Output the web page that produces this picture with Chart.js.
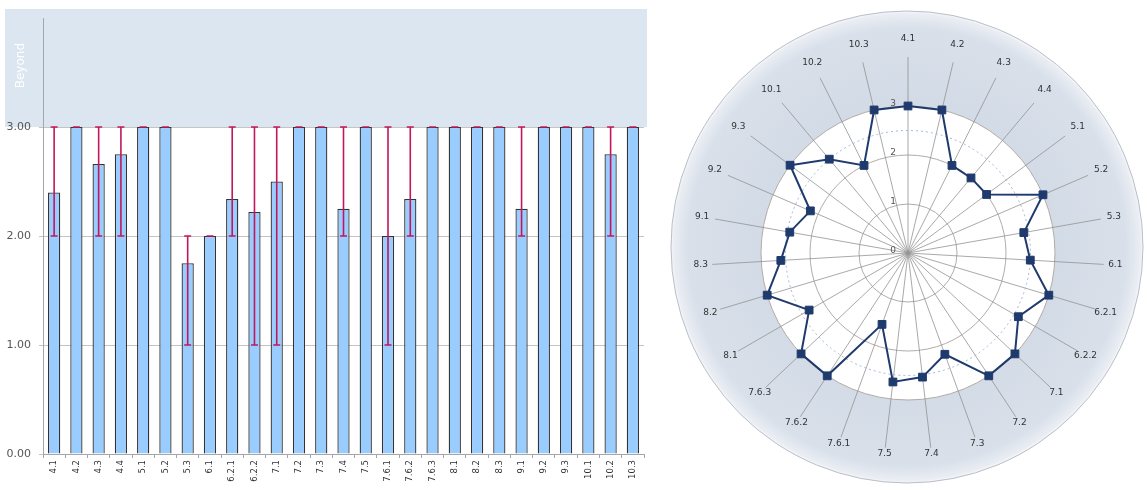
<!DOCTYPE html>
<html>
<head>
<meta charset="utf-8">
<script src="https://cdn.jsdelivr.net/npm/chart.js@4.4.1/dist/chart.umd.min.js"></script>
<style>
  html, body { margin: 0; padding: 0; background: #fff; width: 1147px; height: 491px; overflow: hidden; }
  #barWrap { position: absolute; left: 0; top: 0; width: 650px; height: 491px; }
  #radarWrap { position: absolute; left: 660px; top: 0; width: 487px; height: 491px; }
</style>
</head>
<body>
<div id="barWrap"><canvas id="bar" width="650" height="491" style="width:650px;height:491px"></canvas></div>
<div id="radarWrap"><canvas id="radar" width="487" height="491" style="width:487px;height:491px"></canvas></div>
<script>
// ---------- data ----------
const categories = ['4.1','4.2','4.3','4.4','5.1','5.2','5.3','6.1','6.2.1','6.2.2','7.1','7.2','7.3','7.4','7.5','7.6.1','7.6.2','7.6.3','8.1','8.2','8.3','9.1','9.2','9.3','10.1','10.2','10.3'];
const barValues = [2.4, 3, 2.66, 2.75, 3, 3, 1.75, 2, 2.34, 2.22, 2.5, 3, 3, 2.25, 3, 2, 2.34, 3, 3, 3, 3, 2.25, 3, 3, 3, 2.75, 3];
const errLow  = [2, 3, 2, 2, 3, 3, 1, 2, 2, 1, 1, 3, 3, 2, 3, 1, 2, 3, 3, 3, 3, 2, 3, 3, 3, 2, 3];
const errHigh = [3, 3, 3, 3, 3, 3, 2, 2, 3, 3, 3, 3, 3, 3, 3, 3, 3, 3, 3, 3, 3, 3, 3, 3, 3, 3, 3];
const yTicks = [0, 1, 2, 3];
const beyondFrom = 3;
const beyondLabel = 'Beyond';

const radarLabels = categories;
const radarValues = [3, 3, 2, 2, 2, 3, 2.4, 2.5, 3, 2.6, 3, 3, 2.2, 2.55, 2.65, 1.55, 3, 3, 2.33, 3, 2.6, 2.45, 2.17, 3, 2.5, 2, 3];
const radarTicks = [0, 1, 2, 3];
const radarTarget = 2.5;

// ---------- bar chart ----------
const beyondPlugin = {
  id: 'beyond',
  beforeDraw(chart) {
    const { ctx, chartArea, scales } = chart;
    const y3 = scales.y.getPixelForValue(beyondFrom);
    const top = chartArea.top - 9;
    ctx.save();
    ctx.fillStyle = '#dce6f1';
    ctx.fillRect(5, top, chartArea.right + 3 - 5, y3 - top);
    ctx.translate(21, top + (y3 - top) * 0.48);
    ctx.rotate(-Math.PI / 2);
    ctx.fillStyle = '#ffffff';
    ctx.font = '12px "DejaVu Sans", sans-serif';
    ctx.textAlign = 'center';
    ctx.textBaseline = 'middle';
    ctx.fillText(beyondLabel, 0, 0);
    ctx.restore();
  }
};

const errorBarPlugin = {
  id: 'errorBars',
  afterDatasetsDraw(chart) {
    const { ctx, scales } = chart;
    ctx.save();
    ctx.strokeStyle = '#c2185b';
    ctx.lineWidth = 1.6;
    for (let i = 0; i < categories.length; i++) {
      const x = scales.x.getPixelForValue(i);
      const yl = scales.y.getPixelForValue(errLow[i]);
      const yh = scales.y.getPixelForValue(errHigh[i]);
      ctx.beginPath();
      ctx.moveTo(x, yl); ctx.lineTo(x, yh);
      ctx.moveTo(x - 3.5, yl); ctx.lineTo(x + 3.5, yl);
      ctx.moveTo(x - 3.5, yh); ctx.lineTo(x + 3.5, yh);
      ctx.stroke();
    }
    ctx.restore();
  }
};

new Chart(document.getElementById('bar'), {
  type: 'bar',
  data: {
    labels: categories,
    datasets: [{
      data: barValues,
      backgroundColor: '#99ccff',
      borderColor: '#333333',
      borderWidth: 1.3,
      barPercentage: 0.55,
      categoryPercentage: 1
    }]
  },
  options: {
    responsive: false,
    animation: false,
    layout: { padding: { top: 18, right: 6, left: 0, bottom: 0 } },
    plugins: { legend: { display: false }, tooltip: { enabled: false } },
    scales: {
      x: {
        afterFit(s) { s.height = 37; },
        grid: { offset: true, drawOnChartArea: false, tickLength: 4, color: '#a6a6a6' },
        border: { color: '#a6a6a6' },
        ticks: { autoSkip: false, minRotation: 90, maxRotation: 90, padding: 2, color: '#333', font: { family: '"DejaVu Sans", sans-serif', size: 8.5 } }
      },
      y: {
        min: 0, max: 4,
        afterFit(s) { s.width = 43; },
        afterBuildTicks(s) { s.ticks = yTicks.map(v => ({ value: v })); },
        grid: { color: '#c4c4c4', tickLength: 4 },
        border: { color: '#a6a6a6' },
        ticks: { padding: 8, color: '#555', font: { family: '"DejaVu Sans", sans-serif', size: 11 }, callback: v => Number(v).toFixed(2) }
      }
    }
  },
  plugins: [beyondPlugin, errorBarPlugin]
});

// ---------- radar chart ----------
const radarBgPlugin = {
  id: 'radarBg',
  beforeDraw(chart) {
    const { ctx } = chart;
    const s = chart.scales.r;
    const cx = s.xCenter, cy = s.yCenter;
    ctx.save();
    const ox = cx - 1, oy = cy - 6, orad = 236;
    const g = ctx.createRadialGradient(ox, oy, 150, ox, oy, orad);
    g.addColorStop(0, '#d3dbe6');
    g.addColorStop(0.8, '#d9e0ea');
    g.addColorStop(0.96, '#e9edf3');
    g.addColorStop(1, '#f4f6f9');
    ctx.beginPath();
    ctx.arc(ox, oy, orad, 0, Math.PI * 2);
    ctx.fillStyle = g;
    ctx.fill();
    ctx.strokeStyle = '#b9bec5';
    ctx.lineWidth = 1;
    ctx.stroke();
    ctx.beginPath();
    ctx.arc(cx, cy, s.getDistanceFromCenterForValue(beyondFrom), 0, Math.PI * 2);
    ctx.fillStyle = '#ffffff';
    ctx.fill();
    ctx.restore();
  },
  beforeDatasetsDraw(chart) {
    const { ctx } = chart;
    const s = chart.scales.r;
    ctx.save();
    ctx.beginPath();
    ctx.arc(s.xCenter, s.yCenter, s.getDistanceFromCenterForValue(radarTarget), 0, Math.PI * 2);
    ctx.setLineDash([2, 3]);
    ctx.strokeStyle = '#9fb9d6';
    ctx.lineWidth = 1;
    ctx.stroke();
    ctx.restore();
  },
  afterDraw(chart) {
    const { ctx } = chart;
    const s = chart.scales.r;
    ctx.save();
    ctx.font = '9px "DejaVu Sans", sans-serif';
    ctx.textAlign = 'center';
    ctx.textBaseline = 'middle';
    ctx.fillStyle = '#333333';
    for (let i = 0; i < radarLabels.length; i++) {
      const a = s.getIndexAngle(i);
      const p = s.getPointPosition(i, s.drawingArea + 12 + 6 * Math.cos(a));
      ctx.fillText(radarLabels[i], p.x, p.y);
    }
    ctx.fillStyle = '#555';
    radarTicks.forEach(v => {
      const d = s.getDistanceFromCenterForValue(v);
      ctx.fillText(String(v), s.xCenter - 15, s.yCenter - d - 2);
    });
    ctx.restore();
  }
};

new Chart(document.getElementById('radar'), {
  type: 'radar',
  data: {
    labels: radarLabels,
    datasets: [{
      data: radarValues,
      borderColor: '#1f3a6d',
      backgroundColor: '#1f3a6d',
      borderWidth: 2,
      fill: false,
      pointStyle: 'rect',
      pointRadius: 5.5,
      pointBorderWidth: 1,
      pointBackgroundColor: '#1f3a6d',
      pointBorderColor: '#1f3a6d'
    }]
  },
  options: {
    responsive: false,
    animation: false,
    layout: { padding: { left: 52, top: 57, right: 43, bottom: 42 } },
    plugins: { legend: { display: false }, tooltip: { enabled: false } },
    scales: {
      r: {
        min: 0, max: 4,
        afterBuildTicks(s) { s.ticks = radarTicks.map(v => ({ value: v })); },
        ticks: { display: false },
        pointLabels: { display: false },
        grid: { circular: true, color: '#b3aca6', lineWidth: 1 },
        angleLines: { display: true, color: '#939393', lineWidth: 0.8 }
      }
    }
  },
  plugins: [radarBgPlugin]
});
</script>
</body>
</html>
